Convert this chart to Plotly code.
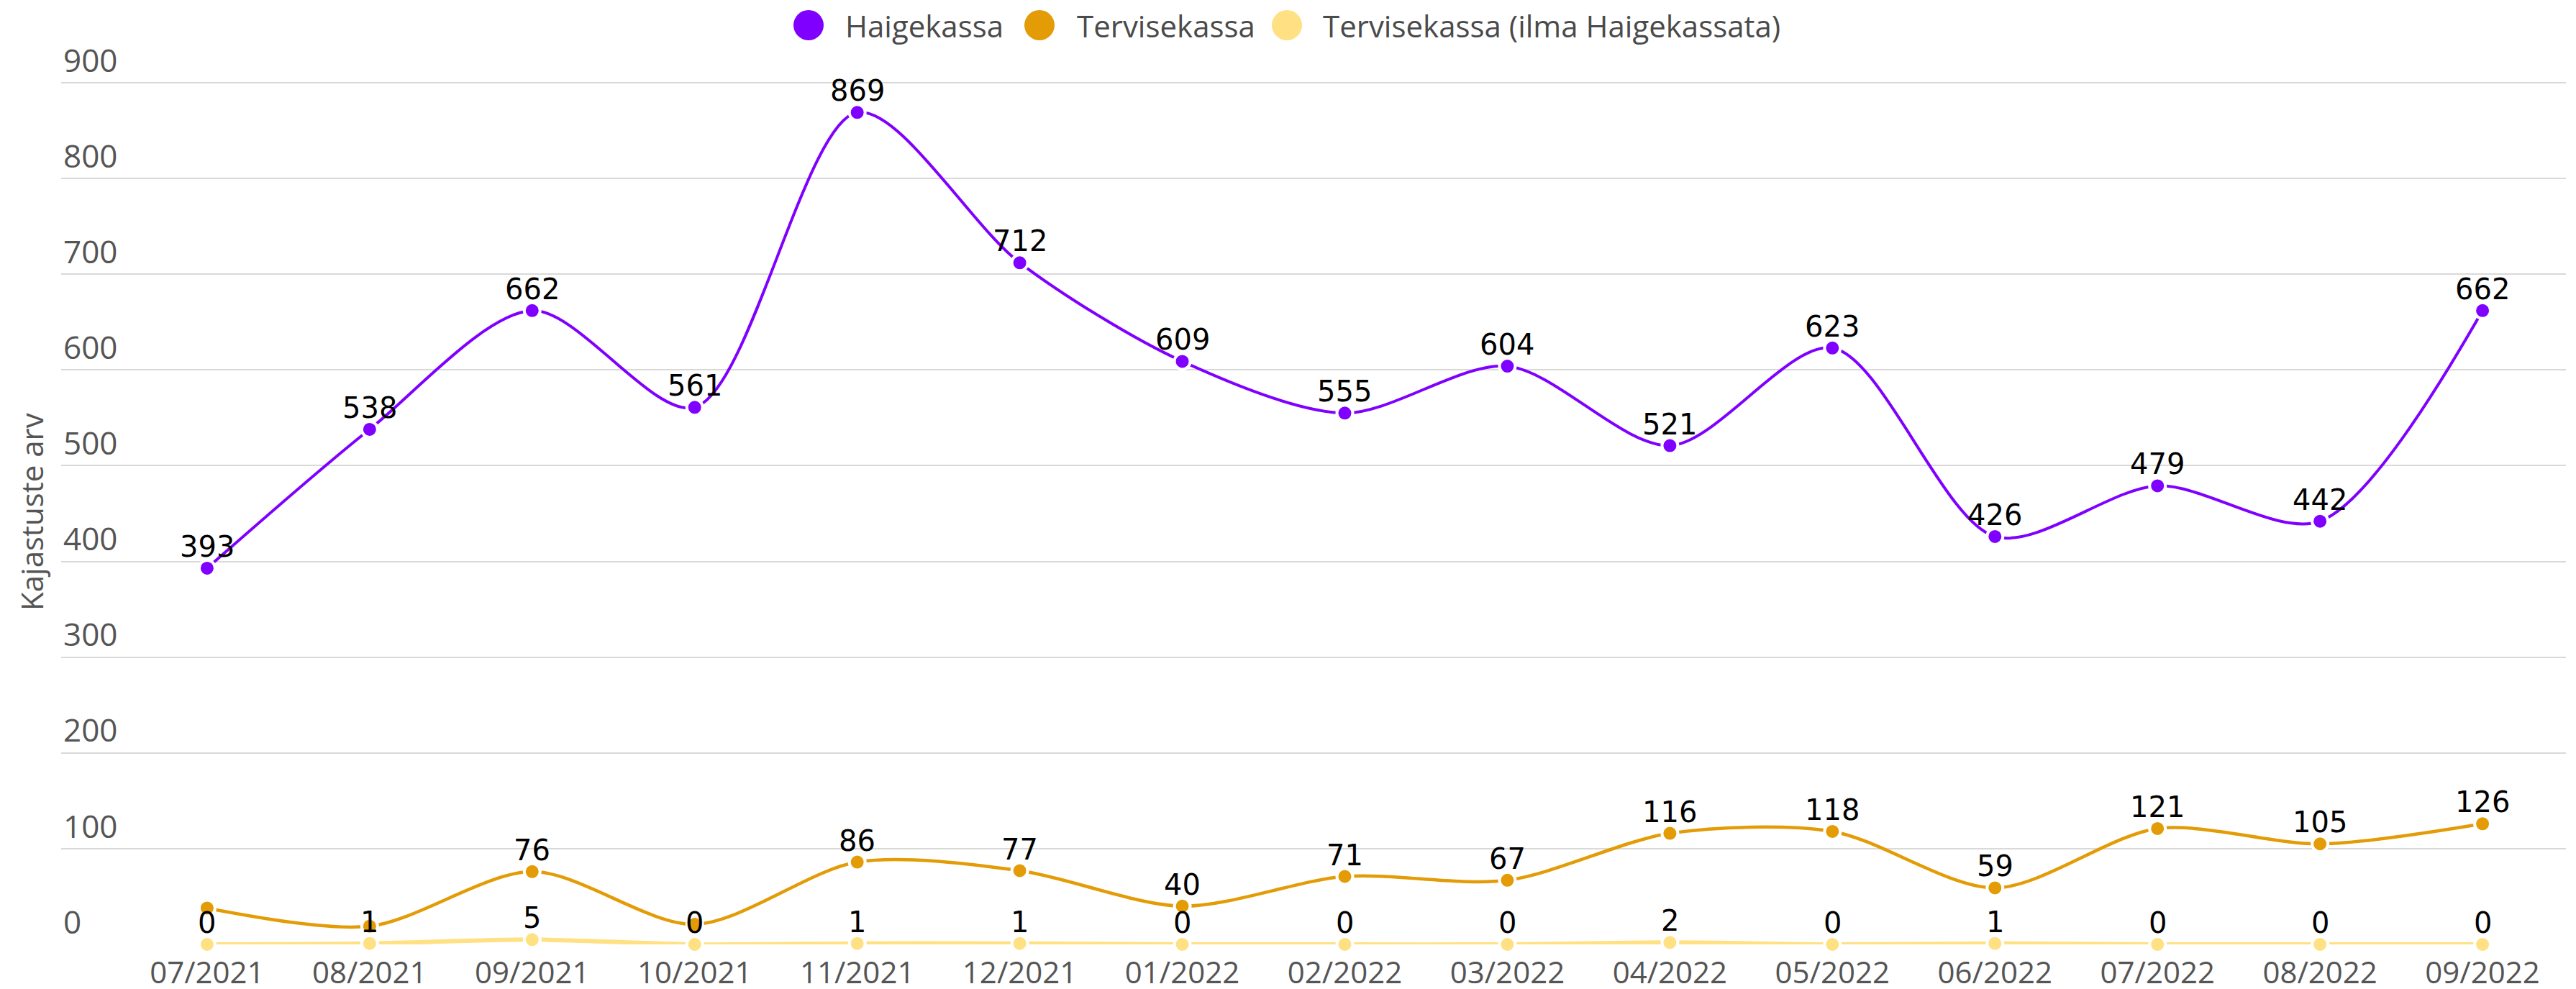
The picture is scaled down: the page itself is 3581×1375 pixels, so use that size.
import plotly.graph_objects as go

months = ["07/2021", "08/2021", "09/2021", "10/2021", "11/2021", "12/2021", "01/2022",
          "02/2022", "03/2022", "04/2022", "05/2022", "06/2022", "07/2022", "08/2022", "09/2022"]
haigekassa = [393, 538, 662, 561, 869, 712, 609, 555, 604, 521, 623, 426, 479, 442, 662]
tervisekassa = [38, 19, 76, 21, 86, 77, 40, 71, 67, 116, 118, 59, 121, 105, 126]
tervise_ilma = [0, 1, 5, 0, 1, 1, 0, 0, 0, 2, 0, 1, 0, 0, 0]
# labels hidden in the reference due to overlap
tervise_hidden = [0, 1, 3]

y_ticks = [0, 100, 200, 300, 400, 500, 600, 700, 800, 900]

names = ["Haigekassa", "Tervisekassa", "Tervisekassa (ilma Haigekassata)"]
colors = ["#7f00ff", "#e39b06", "#ffe083"]
widths = [4, 4.5, 6]

OFF = 8  # page body margin
W, H = 3581, 1375
L, R, T, B = 85 - OFF, 14 + OFF, 40 - OFF, 62 + OFF
YMAX = 956.4

x_idx = list(range(len(months)))
label_font = dict(family="DejaVu Sans", size=40, color="#000000")
axis_font = "Open Sans"

fig = go.Figure()
series = [haigekassa, tervisekassa, tervise_ilma]
annotations = []
for k in range(3):
    vals = series[k]
    fig.add_trace(go.Scatter(
        x=x_idx, y=vals, mode="lines+markers",
        line=dict(color=colors[k], width=widths[k], shape="spline", smoothing=0.85),
        marker=dict(color=colors[k], size=22, line=dict(color="#ffffff", width=4)),
        cliponaxis=False, showlegend=False, name=names[k],
    ))
    for i, v in enumerate(vals):
        if k == 1 and i in tervise_hidden:
            continue
        annotations.append(dict(x=i, y=v, xref="x", yref="y", text=str(v), showarrow=False,
                                xanchor="center", yanchor="bottom", yshift=5, font=label_font))

# manual legend (large circular symbols like the reference)
plot_w = W - L - R
plot_h = H - T - B
leg_y = (H - B - (35 - OFF)) / plot_h
leg_items = [(1124, 1173), (1445, 1495), (1789, 1837)]
shapes = []
for k, (cx, tx) in enumerate(leg_items):
    px = (cx - OFF - L) / plot_w
    shapes.append(dict(type="circle", xref="paper", yref="paper", xsizemode="pixel", ysizemode="pixel",
                       xanchor=px, yanchor=leg_y, x0=-21, x1=21, y0=-21, y1=21,
                       fillcolor=colors[k], line=dict(width=0)))
    annotations.append(dict(text=names[k], xref="paper", yref="paper", x=(tx - OFF - L) / plot_w, y=leg_y,
                            xanchor="left", yanchor="middle", showarrow=False,
                            font=dict(family=axis_font, size=42, color="#4a4a4a")))

annotations.append(dict(text="Kajastuste arv", textangle=-90, xref="paper", yref="paper", x=0,
                        y=(H - B - (712 - OFF)) / plot_h, xanchor="center", yanchor="middle", xshift=-42,
                        showarrow=False, font=dict(family=axis_font, size=42, color="#555555")))

fig.update_layout(
    width=W, height=H,
    margin=dict(l=L, r=R, t=T, b=B, autoexpand=False),
    paper_bgcolor="#ffffff", plot_bgcolor="#ffffff",
    font=dict(family=axis_font, color="#555555"),
    showlegend=False,
    xaxis=dict(range=[-0.898, 14.513], tickvals=x_idx, ticktext=months, showgrid=False,
               zeroline=False, showline=False, ticks="", ticklabelstandoff=11, automargin=False,
               tickfont=dict(family=axis_font, size=42, color="#555555")),
    yaxis=dict(range=[0, YMAX], tickvals=y_ticks, showgrid=True, gridcolor="#d9d9d9", gridwidth=2,
               zeroline=False, showline=False, ticks="", ticklabelposition="inside top", automargin=False,
               tickfont=dict(family=axis_font, size=44, color="#555555")),
    shapes=shapes,
    annotations=annotations,
)

fig.write_html("out.html")
